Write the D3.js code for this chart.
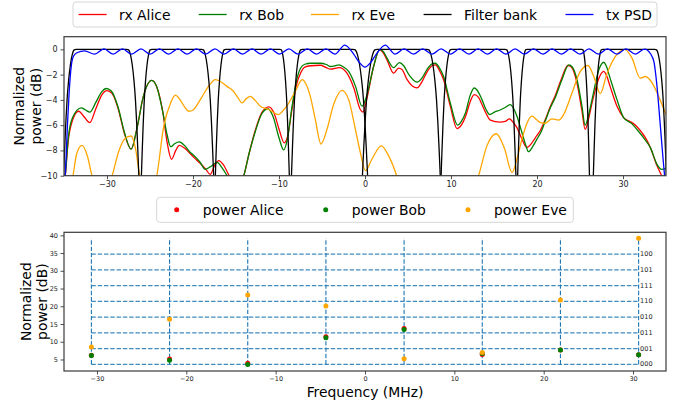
<!DOCTYPE html>
<html>
<head>
<meta charset="utf-8">
<script src="https://cdn.jsdelivr.net/npm/d3@7"></script>
<style>
  body { margin: 0; background: #fff; }
  svg { display: block; font-family: "DejaVu Sans", sans-serif; }
</style>
</head>
<body>
<svg id="chart" width="683" height="407"></svg>
<script>
// ---------- spectrum panel data (frequency in MHz, level in dB) ----------
const rxAlice = [
  [-35.2,-12],[-34.85,-10],[-34.5,-7.2],[-34.0,-5.6],[-33.3,-4.9],[-32.6,-5.4],[-32.0,-5.8],[-31.3,-4.7],
  [-30.6,-3.6],[-30.0,-3.27],[-29.4,-3.5],[-28.7,-4.7],[-28.0,-6.6],[-27.2,-7.9],[-26.5,-6.2],[-25.8,-3.8],
  [-24.8,-2.46],[-24.2,-3.0],[-23.5,-5.0],[-23.0,-7.4],[-22.5,-8.7],[-22.0,-8.0],[-21.6,-7.6],[-21.0,-7.8],
  [-20.4,-8.2],[-19.9,-8.55],[-19.2,-9.0],[-18.5,-9.5],[-18.0,-9.9],[-17.5,-9.2],[-17.0,-8.8],[-16.5,-9.1],
  [-15.8,-10.0],[-15.0,-11.0],[-14.1,-10.0],[-13.5,-8.3],[-12.8,-6.5],[-12.0,-5.0],[-11.2,-4.55],[-10.6,-5.0],
  [-10.0,-6.3],[-9.4,-7.4],[-9.0,-6.9],[-8.5,-4.8],[-8.0,-2.9],[-7.5,-1.9],[-7.0,-1.4],[-6.3,-1.3],
  [-5.2,-1.26],[-4.5,-1.45],[-4.0,-1.57],[-3.0,-1.44],[-2.1,-1.88],[-1.3,-3.06],[-0.55,-4.76],[-0.24,-4.97],
  [0.23,-3.85],[1.0,-1.36],[1.7,-0.02],[2.1,-0.25],[2.56,-0.84],[3.33,-1.88],[3.9,-1.49],[4.3,-1.6],
  [4.9,-2.4],[5.5,-2.9],[6.05,-3.05],[6.6,-2.6],[7.2,-1.8],[7.8,-1.3],[8.2,-1.23],[8.6,-1.6],
  [9.14,-2.4],[9.92,-4.5],[10.7,-6.28],[11.2,-6.0],[11.7,-5.3],[12.2,-4.2],[12.7,-3.59],[13.2,-3.8],
  [13.6,-4.37],[14.1,-5.1],[14.57,-5.6],[15.7,-5.76],[16.3,-5.7],[16.8,-5.5],[17.2,-5.75],[17.67,-6.2],
  [18.25,-7.1],[18.83,-7.77],[19.3,-7.5],[19.8,-7.0],[20.4,-6.4],[21.0,-5.5],[21.5,-4.6],[22.1,-3.7],
  [22.8,-2.4],[23.6,-1.28],[24.0,-1.4],[24.65,-2.67],[25.2,-4.76],[25.6,-6.33],[26.0,-5.5],[26.4,-4.24],
  [27.2,-2.28],[27.75,-1.75],[28.1,-2.1],[28.5,-2.93],[29.3,-4.5],[30.07,-5.4],[31.05,-5.8],[31.6,-6.1],
  [32.2,-6.6],[32.7,-7.1],[33.2,-7.8],[33.95,-9.2],[34.5,-10],[35.2,-11]
];

const rxBob = [
  [-35.2,-12],[-34.85,-10],[-34.5,-7.0],[-34.0,-5.4],[-33.0,-4.63],[-32.5,-4.8],[-32.0,-4.97],[-31.3,-4.2],
  [-30.6,-3.35],[-30.1,-3.1],[-29.5,-3.3],[-28.7,-4.6],[-28.0,-6.5],[-27.2,-7.9],[-26.5,-6.2],[-25.8,-3.8],
  [-24.8,-2.46],[-24.2,-3.0],[-23.5,-5.0],[-23.0,-6.8],[-22.6,-7.7],[-22.1,-7.45],[-21.6,-7.33],[-21.0,-7.6],
  [-20.4,-8.1],[-19.9,-8.4],[-19.2,-8.9],[-18.57,-9.5],[-18.0,-9.3],[-17.2,-8.95],[-16.6,-9.4],[-16.04,-10],
  [-15.2,-11.0],[-14.1,-10],[-13.5,-8.3],[-12.8,-6.6],[-12.0,-5.1],[-11.3,-4.7],[-10.7,-5.3],[-10.0,-7.0],
  [-9.46,-7.96],[-9.0,-7.0],[-8.5,-4.6],[-8.0,-2.6],[-7.5,-1.5],[-7.0,-1.18],[-6.3,-1.1],[-5.2,-1.1],
  [-4.5,-1.2],[-4.0,-1.36],[-3.5,-1.3],[-3.0,-1.23],[-2.5,-1.4],[-1.9,-1.75],[-1.1,-2.93],[-0.35,-4.5],
  [0.23,-3.6],[1.0,-1.36],[1.7,-0.02],[2.1,-0.15],[2.56,-0.7],[3.33,-1.44],[4.0,-1.05],[4.5,-1.3],
  [5.1,-2.0],[6.05,-2.6],[6.6,-2.3],[7.2,-1.6],[7.8,-1.15],[8.17,-1.1],[8.6,-1.4],[9.14,-2.15],
  [9.92,-4.24],[10.77,-6.0],[11.2,-5.7],[11.7,-5.0],[12.2,-3.7],[12.7,-3.06],[13.2,-3.4],[13.6,-3.98],
  [14.1,-4.8],[14.5,-5.16],[15.1,-4.95],[15.7,-4.8],[16.3,-4.6],[16.9,-4.37],[17.3,-4.7],[17.67,-5.3],
  [18.25,-6.6],[18.7,-7.6],[19.0,-8.1],[19.5,-7.7],[20.0,-7.1],[20.5,-6.5],[21.0,-5.6],[21.5,-4.7],
  [22.1,-3.85],[22.9,-2.4],[23.7,-1.23],[24.1,-1.4],[24.65,-2.4],[25.2,-4.37],[25.6,-6.0],[26.0,-5.2],
  [26.4,-3.98],[27.2,-1.6],[27.75,-1.02],[28.1,-1.4],[28.5,-2.28],[29.3,-3.98],[30.07,-5.4],[31.05,-5.9],
  [31.7,-6.4],[32.4,-7.0],[33.2,-7.8],[33.95,-9.1],[34.5,-9.5],[35.2,-9.35]
];

const rxEve = [
  [-34.2,-11],[-33.95,-10],[-33.5,-8.2],[-32.9,-7.6],[-32.3,-8.4],[-31.75,-10],[-30.6,-12.5],[-29.4,-10],
  [-28.6,-8.0],[-27.9,-7.05],[-27.2,-6.86],[-26.7,-7.8],[-26.2,-10],[-25.2,-12.5],[-24.2,-10],[-23.4,-6.07],
  [-22.6,-4.24],[-22.05,-3.62],[-21.5,-4.0],[-20.9,-4.63],[-20.5,-4.9],[-20.0,-4.8],[-19.15,-3.98],[-18.2,-2.93],
  [-17.4,-2.4],[-16.7,-2.6],[-16.05,-2.93],[-15.3,-3.32],[-14.8,-3.8],[-14.3,-4.24],[-13.8,-3.9],[-13.34,-3.72],
  [-12.7,-4.1],[-12.17,-4.5],[-11.2,-4.76],[-10.05,-5.16],[-9.6,-4.9],[-9.1,-4.5],[-8.1,-3.32],[-7.3,-2.4],
  [-6.9,-2.7],[-6.36,-3.72],[-5.78,-5.55],[-5.12,-7.5],[-4.42,-6.33],[-3.65,-4.37],[-2.68,-3.25],[-1.9,-3.98],
  [-1.12,-6.33],[-0.54,-8.17],[0.04,-9.6],[0.8,-8.7],[1.9,-7.64],[2.75,-8.43],[3.68,-10],[4.5,-12],
  [8.0,-14],[12.0,-12],[13.2,-10],[14.2,-7.6],[15.26,-6.68],[16.2,-7.8],[17.1,-9.74],[17.7,-8.6],
  [18.25,-7.1],[18.8,-5.9],[19.41,-5.29],[20.0,-5.6],[20.4,-5.8],[20.96,-5.85],[21.74,-5.5],[22.5,-5.6],
  [23.1,-5.16],[24.07,-3.45],[25.04,-1.75],[25.93,-1.28],[26.6,-2.15],[27.36,-3.5],[28.1,-2.0],[29.1,-0.58],
  [30.2,0.0],[31.05,-0.7],[32.0,-2.28],[32.6,-2.15],[33.4,-2.67],[34.3,-3.98],[35.2,-5.5]
];

const txPSD = [
  [-35.2,-13],[-34.85,-10],[-34.6,-6.0],[-34.4,-3.4],[-34.15,-1.3],[-33.9,-0.55],[-33.5,-0.27],[-32.6,-0.12],
  [-31.45,-0.38],[-30.35,0.04],[-29.3,-0.38],[-28.2,0.04],[-27.15,-0.38],[-26.05,0.04],[-25.0,-0.38],[-23.9,0.04],
  [-22.85,-0.38],[-21.75,0.04],[-20.7,-0.38],[-19.6,0.04],[-18.55,-0.38],[-17.45,0.04],[-16.4,-0.38],[-15.3,0.04],
  [-14.25,-0.38],[-13.15,0.04],[-12.1,-0.38],[-11.0,0.04],[-9.95,-0.38],[-8.85,0.04],[-7.8,-0.38],[-6.7,0.04],
  [-5.65,-0.38],[-4.55,0.04],[-3.5,-0.38],[-2.35,0.34],[-1.3,-0.4],[-0.7,-1.0],[0.0,-1.41],[0.7,-1.0],
  [1.3,-0.4],[2.35,0.34],[3.5,-0.38],[4.55,0.04],[5.65,-0.38],[6.7,0.04],[7.8,-0.38],[8.85,0.04],
  [9.95,-0.38],[11.0,0.04],[12.1,-0.38],[13.15,0.04],[14.25,-0.38],[15.3,0.04],[16.4,-0.38],[17.45,0.04],
  [18.55,-0.38],[19.6,0.04],[20.7,-0.38],[21.75,0.04],[22.85,-0.38],[23.9,0.04],[25.0,-0.38],[26.05,0.04],
  [27.15,-0.38],[28.2,0.04],[29.3,-0.38],[30.35,0.04],[31.45,-0.38],[32.5,0.02],[33.2,-0.35],[33.6,-1.0],
  [33.95,-2.9],[34.3,-5.7],[34.65,-8.6],[34.9,-10.5],[35.2,-13]
];

// filter bank: per band [stop-left, pass-left, pass-right, stop-right] (MHz)
const filterEdges = [
  [-35.05,-33.6,-27.7,-26.3],
  [-26.0,-24.8,-19.0,-17.6],
  [-17.4,-16.2,-9.9,-8.8],
  [-8.55,-7.3,-1.4,0.3],
  [-0.3,1.4,7.2,8.75],
  [8.85,10.1,16.3,17.55],
  [17.75,18.85,25.2,26.1],
  [26.55,27.65,33.7,35.05]
];
// roll-off shape: fraction of the transition width -> attenuation (dB)
const edgeProfile = [[0,0],[0.15,-0.04],[0.3,-0.4],[0.45,-1.2],[0.6,-2.5],[0.72,-4.0],[0.82,-5.8],[0.91,-7.8],[1,-10],[1.2,-15]];

// ---------- symbol power panel data ----------
const bandCenters = [-30.625,-21.875,-13.125,-4.375,4.375,13.125,21.875,30.625];
const powerAlice = [6.2, 5.1, 3.9, 11.4, 13.7, 6.4, 7.7, 6.3];
const powerBob   = [6.1, 4.8, 3.6, 11.1, 13.45, 6.7, 7.7, 6.3];
const powerEve   = [8.55, 16.35, 23.2, 20.1, 5.2, 7.0, 21.8, 39.15];
const levelValues = [3.6, 8.04, 12.48, 16.92, 21.36, 25.8, 30.24, 34.68];
const levelLabels = ["000","001","011","010","110","111","101","100"];

const topXTicks = [-30,-20,-10,0,10,20,30];
const topYTicks = [0,-2,-4,-6,-8,-10];
const botXTicks = [-30,-20,-10,0,10,20,30];
const botYTicks = [5,10,15,20,25,30,35,40];

// ---------- layout ----------
const svg = d3.select("#chart");
const P1 = {l: 64, r: 666, t: 36.7, b: 175.7};
const P2 = {l: 64, r: 666, t: 232.3, b: 371};
const C = {alice: "#ff0000", bob: "#008000", eve: "#ffa500", filt: "#000000", psd: "#0000ff", grid: "#1f77b4"};

const x1 = d3.scaleLinear().domain([-35, 35]).range([P1.l, P1.r]);
const y1 = d3.scaleLinear().domain([-10, 1]).range([P1.b, P1.t]);
const x2 = d3.scaleLinear().domain([-33.69, 33.69]).range([P2.l, P2.r]);
const y2 = d3.scaleLinear().domain([1.75, 40.85]).range([P2.b, P2.t]);

const defs = svg.append("defs");
defs.append("clipPath").attr("id", "clip1").append("rect")
  .attr("x", P1.l).attr("y", P1.t).attr("width", P1.r - P1.l).attr("height", P1.b - P1.t);

// ---------- top panel ----------
const g1 = svg.append("g").attr("clip-path", "url(#clip1)");
const line1 = d3.line().x(d => x1(d[0])).y(d => y1(d[1])).curve(d3.curveMonotoneX);

function drawCurve(data, color) {
  g1.append("path").datum(data).attr("d", line1)
    .attr("fill", "none").attr("stroke", color).attr("stroke-width", 1.3);
}
drawCurve(rxAlice, C.alice);
drawCurve(rxBob, C.bob);
drawCurve(rxEve, C.eve);

filterEdges.forEach(([sl, pl, pr, sr]) => {
  const left = edgeProfile.slice().reverse().map(([t, db]) => [pl - t * (pl - sl), db]);
  const right = edgeProfile.map(([t, db]) => [pr + t * (sr - pr), db]);
  drawCurve(left.concat(right), C.filt);
});
drawCurve(txPSD, C.psd);

function frame(P) {
  svg.append("rect").attr("x", P.l).attr("y", P.t).attr("width", P.r - P.l).attr("height", P.b - P.t)
    .attr("fill", "none").attr("stroke", "#3a3a3a").attr("stroke-width", 1.2);
}

function styleAxis(sel, fs) {
  sel.select(".domain").remove();
  sel.selectAll(".tick line").attr("stroke", "#222").attr("stroke-width", 0.8);
  sel.selectAll(".tick text").attr("fill", "#222").style("font-size", fs + "px")
    .style("font-family", "DejaVu Sans, sans-serif");
}

svg.append("g").attr("transform", `translate(0,${P1.b})`)
  .call(d3.axisBottom(x1).tickValues(topXTicks).tickSize(3.5).tickPadding(2.5).tickFormat(d3.format("d")))
  .call(s => styleAxis(s, 8));
svg.append("g").attr("transform", `translate(${P1.l},0)`)
  .call(d3.axisLeft(y1).tickValues(topYTicks).tickSize(3.5).tickPadding(3).tickFormat(d3.format("d")))
  .call(s => styleAxis(s, 8));
frame(P1);

function yLabel(cx1, cx2, cy) {
  [["Normalized", cx1], ["power (dB)", cx2]].forEach(([t, cx]) => {
    svg.append("text").attr("transform", `translate(${cx},${cy}) rotate(-90)`)
      .attr("text-anchor", "middle").attr("dominant-baseline", "central")
      .style("font-size", "13.9px").attr("fill", "#000").text(t);
  });
}
yLabel(19, 36, (P1.t + P1.b) / 2);

// top legend
const leg1 = svg.append("g");
leg1.append("rect").attr("x", 73).attr("y", 2).attr("width", 584).attr("height", 25).attr("rx", 3)
  .attr("fill", "#fff").attr("fill-opacity", 0.8).attr("stroke", "#d6d6d6").attr("stroke-width", 1);
const legItems1 = [
  {label: "rx Alice", color: C.alice, x: 78.6},
  {label: "rx Bob", color: C.bob, x: 198.7},
  {label: "rx Eve", color: C.eve, x: 311},
  {label: "Filter bank", color: C.filt, x: 423.6},
  {label: "tx PSD", color: C.psd, x: 565.5}
];
legItems1.forEach(it => {
  leg1.append("line").attr("x1", it.x).attr("x2", it.x + 28).attr("y1", 14.5).attr("y2", 14.5)
    .attr("stroke", it.color).attr("stroke-width", 1.3);
  leg1.append("text").attr("x", it.x + 40.5).attr("y", 14.5).attr("dominant-baseline", "central")
    .style("font-size", "13.9px").attr("fill", "#000").text(it.label);
});

// ---------- bottom panel ----------
const g2 = svg.append("g");
const allPow = powerAlice.concat(powerBob, powerEve);
const pMin = d3.min(allPow), pMax = d3.max(allPow);

levelValues.forEach((v, i) => {
  g2.append("line").attr("x1", x2(bandCenters[0])).attr("x2", x2(bandCenters[bandCenters.length - 1]))
    .attr("y1", y2(v)).attr("y2", y2(v))
    .attr("stroke", C.grid).attr("stroke-width", 1.2).attr("stroke-dasharray", "4.4,1.9").attr("opacity", 0.85);
  g2.append("text").attr("x", x2(bandCenters[bandCenters.length - 1]) + 1.5).attr("y", y2(v))
    .attr("dominant-baseline", "central").style("font-size", "6.5px").attr("fill", "#222").text(levelLabels[i]);
});
bandCenters.forEach(f => {
  g2.append("line").attr("x1", x2(f)).attr("x2", x2(f)).attr("y1", y2(pMin)).attr("y2", y2(pMax))
    .attr("stroke", C.grid).attr("stroke-width", 1.1).attr("stroke-dasharray", "4.4,1.9");
});

[[powerAlice, C.alice], [powerBob, C.bob], [powerEve, C.eve]].forEach(([vals, col]) => {
  g2.selectAll(null).data(vals).enter().append("circle")
    .attr("cx", (d, i) => x2(bandCenters[i])).attr("cy", d => y2(d)).attr("r", 2.5).attr("fill", col);
});

svg.append("g").attr("transform", `translate(0,${P2.b})`)
  .call(d3.axisBottom(x2).tickValues(botXTicks).tickSize(3.5).tickPadding(2).tickFormat(d3.format("d")))
  .call(s => styleAxis(s, 6.5));
svg.append("g").attr("transform", `translate(${P2.l},0)`)
  .call(d3.axisLeft(y2).tickValues(botYTicks).tickSize(3.5).tickPadding(2.5).tickFormat(d3.format("d")))
  .call(s => styleAxis(s, 6.5));
frame(P2);

yLabel(25.5, 42, (P2.t + P2.b) / 2);
svg.append("text").attr("x", x2(0)).attr("y", 392).attr("text-anchor", "middle")
  .attr("dominant-baseline", "central").style("font-size", "13.9px").attr("fill", "#000").text("Frequency (MHz)");

// bottom legend
const leg2 = svg.append("g");
leg2.append("rect").attr("x", 156.7).attr("y", 197.3).attr("width", 416.6).attr("height", 25).attr("rx", 3)
  .attr("fill", "#fff").attr("fill-opacity", 0.8).attr("stroke", "#d6d6d6").attr("stroke-width", 1);
const legItems2 = [
  {label: "power Alice", color: C.alice, x: 176.7},
  {label: "power Bob", color: C.bob, x: 325.7},
  {label: "power Eve", color: C.eve, x: 468}
];
legItems2.forEach(it => {
  leg2.append("circle").attr("cx", it.x).attr("cy", 209.8).attr("r", 2.5).attr("fill", it.color);
  leg2.append("text").attr("x", it.x + 26).attr("y", 209.8).attr("dominant-baseline", "central")
    .style("font-size", "13.9px").attr("fill", "#000").text(it.label);
});
</script>
</body>
</html>
